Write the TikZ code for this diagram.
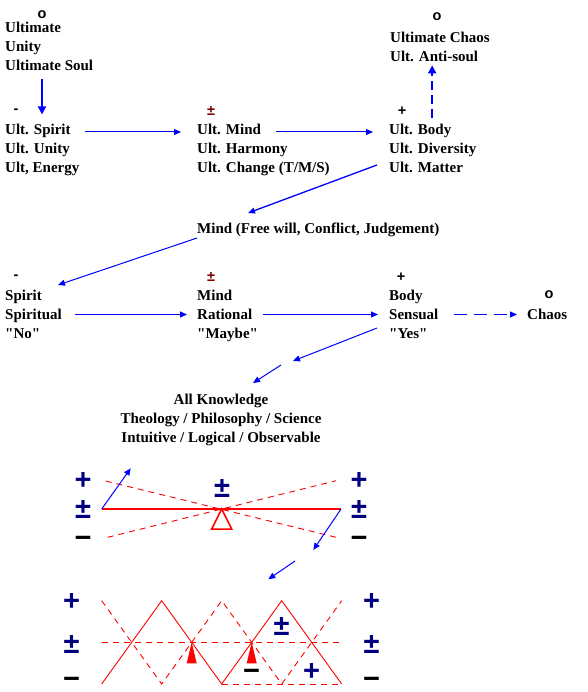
\documentclass[tikz,border=0pt]{standalone}
\usepackage{fontspec}
\setmainfont{Liberation Serif}[Ligatures=TeXOff]
\newfontfamily\signfont{Liberation Sans}
\usetikzlibrary{arrows.meta,calc}
\definecolor{linkBlue}{RGB}{0,0,255}
\definecolor{signNavy}{RGB}{0,0,128}
\definecolor{signRed}{RGB}{128,0,0}
\tikzset{
  txt/.style={anchor=base west, inner sep=0pt, font=\fontsize{15}{19}\selectfont\bfseries},
  sgn/.style={inner sep=0pt, font=\signfont\fontsize{14.5}{16}\selectfont\bfseries},
  bigsgn/.style={inner sep=0pt, text=signNavy, text height=17pt, text depth=0pt,
    font=\signfont\fontsize{29}{30}\selectfont\bfseries},
  link/.style={linkBlue, line width=1pt, -{Triangle[length=7pt,width=6pt]}},
  heavylink/.style={linkBlue, line width=2pt, -{Triangle[length=8pt,width=8pt]}},
  redline/.style={red, line width=0.9pt},
  reddash/.style={red, line width=0.9pt, dash pattern=on 6pt off 5pt},
}

\begin{document}
\begin{tikzpicture}[x=1pt,y=-1pt]
    \useasboundingbox (0,0) rectangle (587,692);

    % ultimate soul
    \node[sgn] (o1) at (42,15) {o};
    \node[txt] (ult) at (5,33) {Ultimate};
    \node[txt] (unity) at (5,52) {Unity};
    \node[txt] (usoul) at (5,71) {Ultimate Soul};

    % ultimate chaos
    \node[sgn] (o2) at (437,17) {o};
    \node[txt] (uchaos) at (390,43) {Ultimate Chaos};
    \node[txt] (uanti) at (390,62) {Ult. Anti-soul};

    % ultimate row
    \node[sgn] (minus1) at (16,111) {-};
    \node[txt] (uspirit) at (5,135) {Ult. Spirit};
    \node[txt] (uunity) at (5,154) {Ult. Unity};
    \node[txt] (uenergy) at (5,173) {Ult, Energy};

    \node[sgn, text=signRed] (pm1) at (211,111) {±};
    \node[txt] (umind) at (197,135) {Ult. Mind};
    \node[txt] (uharm) at (197,154) {Ult. Harmony};
    \node[txt] (uchange) at (197,173) {Ult. Change (T/M/S)};

    \node[sgn] (plus1) at (402,111) {+};
    \node[txt] (ubody) at (389,135) {Ult. Body};
    \node[txt] (udiv) at (389,154) {Ult. Diversity};
    \node[txt] (umatter) at (389,173) {Ult. Matter};

    \draw[heavylink] ($(o1 |- usoul.south)+(0,8)$) -- ($(o1 |- uspirit.north)+(0,-10)$);
    \draw[link] ($(uspirit.base east)+(14,-3)$) -- ($(uspirit.base east -| umind.west)+(-16,-3)$);
    \draw[link] ($(umind.base east)+(15,-3)$) -- ($(umind.base east -| ubody.west)+(-16,-3)$);
    \draw[heavylink, dash pattern=on 9pt off 5pt] ($(ubody.north -| uanti.south)+(-2,-6)$) -- ($(uanti.south)+(-2,3)$);

    % free will
    \node[txt] (mindfree) at (197,234) {Mind (Free will, Conflict, Judgement)};
    \draw[link, line width=1.3pt] ($(umatter.base west)+(-12,-8)$) -- ($(mindfree.base west)+(51,-21)$);

    % lower row
    \node[sgn] (minus2) at (16,277) {-};
    \node[txt] (spirit) at (5,300) {Spirit};
    \node[txt] (spiritual) at (5,319) {Spiritual};
    \node[txt] (no) at (5,338) {"No"};

    \node[sgn, text=signRed] (pm2) at (211,277) {±};
    \node[txt] (mind) at (197,300) {Mind};
    \node[txt] (rational) at (197,319) {Rational};
    \node[txt] (maybe) at (197,338) {"Maybe"};

    \node[sgn] (plus2) at (401,277) {+};
    \node[txt] (body) at (389,300) {Body};
    \node[txt] (sensual) at (389,319) {Sensual};
    \node[txt] (yes) at (389,338) {"Yes"};

    \node[sgn] (o3) at (549,295) {o};
    \node[txt] (chaos) at (527,319) {Chaos};

    \draw[link] ($(mindfree.base west)+(0,4)$) -- ($(spirit.base west)+(53,-15)$);
    \draw[link] ($(spiritual.base east)+(13,-4.5)$) -- ($(spiritual.base east -| rational.west)+(-10,-4.5)$);
    \draw[link] ($(rational.base east)+(11,-4.5)$) -- ($(rational.base east -| sensual.west)+(-11,-4.5)$);
    \draw[link, dash pattern=on 13pt off 7pt] ($(sensual.base east)+(15,-4.5)$) -- ($(sensual.base east -| chaos.west)+(-10,-4.5)$);

    % knowledge
    \node[txt, anchor=north, align=center] (know) at (221,394)
      {All Knowledge\\Theology / Philosophy / Science\\Intuitive / Logical / Observable};
    \coordinate (split) at ($(know.north)+(72,-33)$);
    \coordinate (resume) at ($(know.north)+(60,-29)$);
    \draw[link] ($(yes.base west)+(-12,-10)$) -- (split);
    \draw[link] (resume) -- ($(know.north)+(32,-11)$);

    % balance
    \node[bigsgn] (plusL) at (83,481) {+};
    \node[bigsgn] (pmL) at (83,510) {±};
    \node[bigsgn, text=black] (minusL) at (83,539) {−};
    \node[bigsgn] (plusR) at (359,481) {+};
    \node[bigsgn] (pmR) at (359,510) {±};
    \node[bigsgn, text=black] (minusR) at (359,539) {−};
    \node[bigsgn] (pmC) at (222,489) {±};

    \coordinate (beamL) at (101.7,509);
    \coordinate (beamR) at (341,509);
    \coordinate (pivot) at (221.7,509);
    \draw[reddash] (105.7,481) -- (336,537.3);
    \draw[reddash] (107.7,537.3) -- (336,480.7);
    \draw[red, line width=2pt] (beamL) -- (beamR);
    \draw[red, line width=1.5pt, fill=white] (pivot) -- ++(-10,20) -- ++(20,0) -- cycle;

    \coordinate (upL) at (130.7,468.3);
    \coordinate (downR) at (313.3,550);
    \coordinate (dropA) at (295,561);
    \coordinate (dropB) at (268.3,579.3);
    \draw[link] (beamL) -- (upL);
    \draw[link] (beamR) -- (downR);
    \draw[link] (dropA) -- (dropB);

    % waves
    \node[bigsgn] (plusLL) at (71.7,601.7) {+};
    \node[bigsgn] (pmLL) at (71.7,645) {±};
    \node[bigsgn, text=black] (minusLL) at (71.7,680) {−};
    \node[bigsgn] (plusRR) at (371.7,601.7) {+};
    \node[bigsgn] (pmRR) at (371.7,645) {±};
    \node[bigsgn, text=black] (minusRR) at (371.7,680) {−};

    \draw[redline] (101.7,684) -- (161.7,600.7) -- (221.7,684) -- (281.7,600.7) -- (341.7,684);
    \draw[reddash] (101.7,600.7) -- (161.7,684) -- (221.7,600.7) -- (281.7,684) -- (341.7,600.7);
    \draw[reddash] (101.7,642.3) -- (341.7,642.3);
    \draw[reddash] (221.7,684) -- (341.7,684);
    \fill[red] (191.7,642.3) -- (186.7,663.3) -- (196.7,663.3) -- cycle;
    \fill[red] (251.7,642.3) -- (246.7,663.3) -- (256.7,663.3) -- cycle;

    \node[bigsgn] (pmW) at (281.7,627) {±};
    \node[bigsgn, text=black] (minusW) at (251.7,671.7) {−};
    \node[bigsgn] (plusW) at (311.7,671.7) {+};
\end{tikzpicture}
\end{document}
